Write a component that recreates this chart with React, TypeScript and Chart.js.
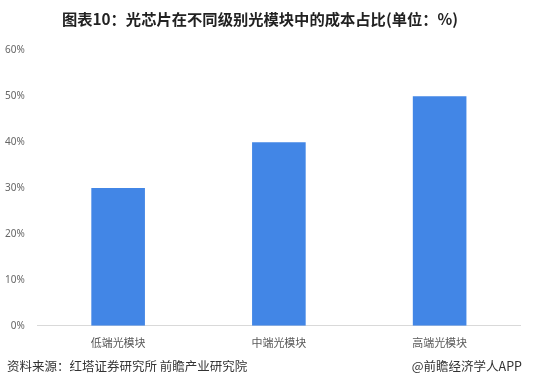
import React, { useEffect, useRef } from "react";
import { Chart, registerables } from "chart.js";

Chart.register(...registerables);

const categories = ["低端光模块", "中端光模块", "高端光模块"];
const values = [30, 40, 50];
const yTicks = [0, 10, 20, 30, 40, 50, 60];
const titleText = "图表10：光芯片在不同级别光模块中的成本占比(单位：%)";
const sourceText = "资料来源：红塔证券研究所 前瞻产业研究院";
const brandText = "@前瞻经济学人APP";

const CJK = '"Noto Sans CJK SC", "Noto Sans", sans-serif';

const footerPlugin = {
  id: "footerText",
  afterDraw(chart: any) {
    const ctx = chart.ctx;
    ctx.save();
    ctx.fillStyle = "#333";
    ctx.font = `12.5px ${CJK}`;
    ctx.textBaseline = "middle";
    ctx.textAlign = "left";
    ctx.fillText(sourceText, 7, 366);
    ctx.textAlign = "right";
    ctx.fillText(brandText, 522, 366);
    ctx.restore();
  },
};

export default function App() {
  const ref = useRef<HTMLCanvasElement>(null);
  useEffect(() => {
    document.body.style.margin = "0";
    const chart = new Chart(ref.current!, {
      type: "bar",
      data: {
        labels: categories,
        datasets: [
          {
            data: values,
            backgroundColor: "#4286E6",
            barPercentage: 0.667,
            categoryPercentage: 0.5,
          },
        ],
      },
      options: {
        animation: false,
        responsive: false,
        layout: { padding: { left: 0, right: 13, top: 0, bottom: 35 } },
        plugins: {
          legend: { display: false },
          tooltip: { enabled: false },
          title: {
            display: true,
            text: titleText,
            color: "#222",
            font: { family: CJK, size: 15.3, weight: "bold" },
            padding: { top: 10, bottom: 22 },
          },
        },
        scales: {
          x: {
            grid: { display: false },
            border: { display: true, color: "#d9d9d9" },
            ticks: {
              color: "#595959",
              font: { family: CJK, size: 11 },
              padding: 2,
            },
          },
          y: {
            min: 0,
            max: 60,
            afterBuildTicks(axis: any) {
              axis.ticks = yTicks.map((v) => ({ value: v }));
            },
            grid: { display: false },
            border: { display: false },
            ticks: {
              color: "#666",
              font: { family: '"Noto Sans", sans-serif', size: 10 },
              padding: 5,
              callback: (v: any) => v + "%",
            },
          },
        },
      },
      plugins: [footerPlugin],
    });
    return () => chart.destroy();
  }, []);
  return <canvas ref={ref} width={533} height={386} style={{ display: "block" }} />;
}
